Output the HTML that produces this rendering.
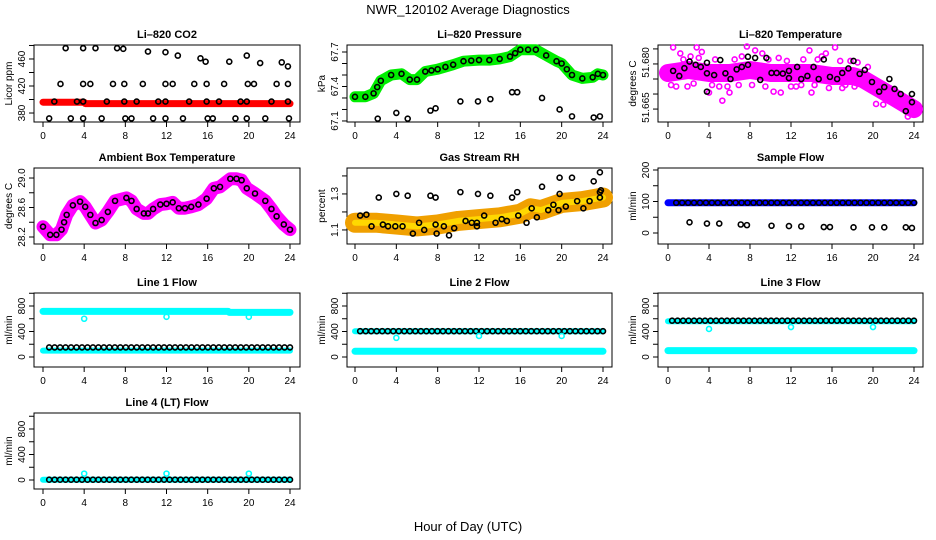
<!DOCTYPE html>
<html><head><meta charset="utf-8"><style>
html,body{margin:0;padding:0;background:#fff}
svg{display:block;font-family:"Liberation Sans",sans-serif}
</style></head><body>
<svg id="s" width="936" height="540" viewBox="0 0 936 540" xmlns="http://www.w3.org/2000/svg">
<rect width="936" height="540" fill="#fff"/>
<text x="468" y="14" text-anchor="middle" font-size="13">NWR_120102  Average Diagnostics</text>
<text x="468" y="531" text-anchor="middle" font-size="13">Hour of Day (UTC)</text>
</svg>
<script>
// ---- data ----
const xTicks=[0,4,8,12,16,20,24];
// CO2
const co2BandH=[0,4,4.1,24];
const co2BandV=[396,396,394,394];
const co2PtsH=[2.2,3.9,5.1,7.2,7.8,10.2,11.9,13.1,15.3,15.8,18.1,19.8,21.1,23.2,23.8,
1.7,3.9,4.6,6.8,7.9,9.7,11.9,12.6,14.7,15.9,17.6,19.9,20.5,22.7,23.8,
1.1,3.3,3.9,6.2,7.9,9.1,11.2,11.9,14.2,15.9,17.1,19.2,19.8,22.2,23.8,
0.6,2.7,3.9,5.7,8.0,8.6,10.7,11.9,13.6,16.0,16.5,18.7,19.8,21.6,23.9];
const co2PtsV=[476,476,476,476,475,471,470,465,461,456,456,465,454,455,449,
423,423,423,423,423,423,423,423,423,423,423,423,423,423,423,
397,397,397,397,397,397,397,397,397,397,397,397,397,397,397,
372,372,372,372,372,372,372,372,372,372,372,372,372,372,372];
// Pressure
const presBandH=[0,1,1.8,2.5,3.5,4.5,5.3,6,6.8,8,9.5,10.5,12,13,14,15,16,17.5,18.5,19.5,20,21,22,23,23.5,24];
const presBandV=[67.31,67.31,67.34,67.45,67.50,67.51,67.46,67.46,67.53,67.55,67.59,67.62,67.63,67.63,67.64,67.66,67.72,67.72,67.67,67.62,67.60,67.50,67.47,67.48,67.51,67.50];
const presLowH=[2.2,4.0,5.1,7.3,7.8,10.2,11.9,13.1,15.2,15.7,18.1,19.8,21.0,23.1,23.7];
const presLowV=[67.12,67.17,67.12,67.19,67.21,67.27,67.27,67.29,67.35,67.35,67.30,67.20,67.14,67.13,67.14];
// Li-820 temperature
const tempBandH=[0,2,4,6,8,10,12,14,16,18,19,20,21,22,23,24];
const tempBandV=[51.677,51.678,51.677,51.677,51.678,51.677,51.677,51.677,51.676,51.676,51.675,51.673,51.671,51.669,51.667,51.665];
const tempMagH=[0.5,1.2,2.8,3.3,5.0,6.0,7.7,8.5,9.2,11.0,12.5,14.0,15.4,16.3,17.3,0.8,4.0,5.3,10.3,13.8,20.3,23.4,23.6,21.0,
1.5,2.2,3.0,4.6,6.5,7.2,9.8,10.8,11.6,13.2,14.6,15.0,16.8,17.8,18.5,19.5,0.3,1.9,2.5,4.3,5.8,6.9,8.2,9.5,12.0,13.0,14.3,15.7,17.0,18.2,19.8,21.5,22.3,22.8];
const tempMagV=[51.6855,51.6835,51.6855,51.684,51.6725,51.6705,51.6858,51.6845,51.6835,51.6705,51.6725,51.6705,51.6835,51.6855,51.673,51.6725,51.6705,51.6678,51.6708,51.6845,51.6667,51.6625,51.664,51.6665,
51.6815,51.6825,51.682,51.6815,51.6815,51.6825,51.6815,51.682,51.681,51.6815,51.6815,51.6825,51.681,51.681,51.6805,51.679,
51.673,51.6725,51.6735,51.673,51.6725,51.673,51.673,51.6725,51.6725,51.673,51.673,51.672,51.672,51.6725,51.6715,51.6695,51.668,51.6665];
const tempPtsH=[0.5,1.1,1.6,2.1,2.7,3.2,3.8,3.8,3.8,4.5,5.1,5.6,6.1,6.7,7.2,7.8,7.8,8.5,9.0,9.6,10.1,10.6,11.2,11.8,11.8,12.6,13.0,13.6,14.2,14.7,15.2,15.8,16.5,17.0,17.6,18.1,18.7,19.2,19.9,20.6,21.1,21.6,22.1,22.7,23.2,23.8,23.8];
const tempPtsV=[51.6777,51.676,51.6786,51.6808,51.6797,51.679,51.6804,51.6769,51.6708,51.6763,51.6813,51.6769,51.675,51.6782,51.679,51.6824,51.6797,51.682,51.6747,51.682,51.677,51.677,51.6768,51.6777,51.6753,51.679,51.675,51.676,51.679,51.675,51.6815,51.6757,51.675,51.677,51.6785,51.681,51.6767,51.678,51.674,51.6708,51.6723,51.675,51.6717,51.670,51.6643,51.670,51.6673];
// Ambient box temperature
const ambH=[0,0.7,1.3,1.8,2.3,2.9,3.6,4.1,4.6,5.1,5.7,6.3,7.0,8.1,8.6,9.1,9.8,10.2,10.7,11.4,12.0,12.6,13.2,13.8,14.4,15.1,15.9,16.6,17.2,18.2,18.8,19.3,19.8,20.6,21.6,22.2,22.7,23.4,24];
const ambV=[28.34,28.23,28.23,28.30,28.50,28.63,28.68,28.61,28.50,28.39,28.43,28.54,28.69,28.73,28.69,28.58,28.52,28.52,28.58,28.64,28.65,28.67,28.59,28.59,28.61,28.64,28.72,28.86,28.88,28.99,28.99,28.97,28.86,28.79,28.69,28.58,28.48,28.37,28.30];
// Gas stream RH
const rhBandH=[0,2,4,6,8,10,12,14,16,17,18,20,22,24];
const rhBandV=[1.14,1.14,1.13,1.12,1.13,1.15,1.16,1.17,1.19,1.22,1.21,1.25,1.26,1.28];
const rhPtsH=[2.3,4.0,5.1,7.3,7.8,10.2,11.9,13.1,15.2,15.7,18.1,19.8,21.0,23.1,23.7,19.8,23.8,23.7,
0.5,1.1,1.6,2.7,3.2,3.9,4.6,5.6,6.2,6.7,7.8,7.9,8.6,9.1,9.6,10.7,11.3,11.8,11.8,12.5,13.6,14.2,14.7,15.8,16.6,17.1,17.6,18.7,19.2,19.7,20.4,21.5,22.1,22.7,23.7];
const rhPtsV=[1.28,1.30,1.29,1.29,1.28,1.31,1.30,1.29,1.28,1.31,1.34,1.39,1.39,1.37,1.42,1.30,1.32,1.31,
1.18,1.185,1.12,1.13,1.12,1.12,1.12,1.08,1.14,1.10,1.13,1.08,1.12,1.07,1.11,1.15,1.14,1.14,1.12,1.18,1.14,1.16,1.15,1.18,1.14,1.22,1.17,1.21,1.24,1.21,1.23,1.26,1.22,1.26,1.28];
// Sample flow
const sfBandH=[0,24];
const sfBandV=[96,96];
const sfLowH=[2.1,3.8,5.0,7.1,7.7,10.1,11.8,13.0,15.2,15.8,18.1,19.9,21.1,23.2,23.8];
const sfLowV=[34,30,30,27,25,23,22,21,19,19,18,18,18,18,16];
// Line flows
const l1CyanHiH=[0,18,18.1,24]; const l1CyanHiV=[715,715,700,700];
const l1CyanLoH=[0,24]; const l1CyanLoV=[100,100];
const l1BlackH=[0.6,24]; const l1BlackV=[150,150];
const l1DipH=[4,12,20]; const l1DipV=[600,630,630];
const l2CyanHiH=[0,24]; const l2CyanHiV=[405,405];
const l2CyanLoH=[0,24]; const l2CyanLoV=[90,90];
const l2BlackH=[0.5,24]; const l2BlackV=[405,405];
const l2DipH=[4,12,20]; const l2DipV=[300,330,330];
const l3CyanHiH=[0,24]; const l3CyanHiV=[560,560];
const l3CyanLoH=[0,24]; const l3CyanLoV=[100,100];
const l3BlackH=[0.4,24]; const l3BlackV=[570,570];
const l3DipH=[4,12,20]; const l3DipV=[440,470,470];
const l4CyanH=[0,24]; const l4CyanV=[5,5];
const l4BlackH=[0.6,24]; const l4BlackV=[5,5];
const l4DipH=[4,12,20]; const l4DipV=[100,100,100];

// ---- drawing ----
const NS="http://www.w3.org/2000/svg";
const svg=document.getElementById('s');
function el(tag,attrs,parent){const e=document.createElementNS(NS,tag);for(const k in attrs)e.setAttribute(k,attrs[k]);(parent||svg).appendChild(e);return e;}
const cols=[{L:34,R:300,x0:43,x24:290},{L:347,R:612,x0:355,x24:603},{L:658,R:923,x0:668,x24:914}];
const rows=[{T:45,B:122},{T:168,B:244},{T:293,B:367},{T:413,B:489}];

function panel(name,title,c,r,ylim,ticks,labVals,labTexts,ylab){
  const col=cols[c],row=rows[r];
  const g=el('g',{});
  
  
  const sx=h=>col.x0+(col.x24-col.x0)*h/24;
  const sy=v=>row.T+(ylim[1]-v)/(ylim[1]-ylim[0])*(row.B-row.T);
  const t=el('text',{x:(col.L+col.R)/2,y:row.T-7,'text-anchor':'middle','font-size':11,'font-weight':'bold'},g);
  t.textContent=title;
  
  
  const box=el('rect',{x:col.L,y:row.T,width:col.R-col.L,height:row.B-row.T,fill:'none',stroke:'#000','stroke-width':1},g);
  
  
  const xa=el('g',{},g);
  
  
  el('line',{x1:sx(0),x2:sx(24),y1:row.B,y2:row.B,stroke:'#000'},xa);
  xTicks.forEach(h=>{
    el('line',{x1:sx(h),x2:sx(h),y1:row.B,y2:row.B+5,stroke:'#000'},xa);
    const lt=el('text',{x:sx(h),y:row.B+17,'text-anchor':'middle','font-size':10},xa);
    lt.textContent=h;
  });
  const ya=el('g',{},g);
  
  
  el('line',{x1:col.L,x2:col.L,y1:sy(ticks[0]),y2:sy(ticks[ticks.length-1]),stroke:'#000'},ya);
  ticks.forEach(v=>el('line',{x1:col.L-5,x2:col.L,y1:sy(v),y2:sy(v),stroke:'#000'},ya));
  labVals.forEach((v,i)=>{
    const yy=sy(v),xx=col.L-9;
    const lt=el('text',{x:xx,y:yy,'text-anchor':'middle','font-size':10,transform:`rotate(-90 ${xx} ${yy})`},ya);
    lt.textContent=labTexts[i];
  });
  const yl=el('text',{x:col.L-22,y:(row.T+row.B)/2,'text-anchor':'middle','font-size':10,transform:`rotate(-90 ${col.L-22} ${(row.T+row.B)/2})`},g);
  yl.textContent=ylab;
  
  
  return {g,sx,sy};
}
function band(p,H,V,color,w,nm){
  const pts=H.map((h,i)=>p.sx(h).toFixed(1)+','+p.sy(V[i]).toFixed(1)).join(' ');
  const e=el('polyline',{points:pts,fill:'none',stroke:color,'stroke-width':w,'stroke-linecap':'round','stroke-linejoin':'round'},p.g);
  
  
}
function pts(p,H,V,color,nm){
  const g=el('g',{},p.g);
  
  
  H.forEach((h,i)=>el('circle',{cx:p.sx(h),cy:p.sy(V[i]),r:2.5,fill:'none',stroke:color,'stroke-width':1.6},g));
}
function densePts(p,H,V,color,step,nm){
  const g=el('g',{},p.g);
  
  
  for(let i=0;i<H.length-1;i++){
    const x1=p.sx(H[i]),y1=p.sy(V[i]),x2=p.sx(H[i+1]),y2=p.sy(V[i+1]);
    const d=Math.hypot(x2-x1,y2-y1),n=Math.max(1,Math.round(d/step));
    for(let k=0;k<n;k++){const f=k/n;el('circle',{cx:x1+(x2-x1)*f,cy:y1+(y2-y1)*f,r:2.5,fill:'none',stroke:color,'stroke-width':1.6},g);}
  }
  const L=H.length-1;
  el('circle',{cx:p.sx(H[L]),cy:p.sy(V[L]),r:2.5,fill:'none',stroke:color,'stroke-width':1.6},g);
}
const flowTicks=[0,200,400,600,800,1000];

let p=panel('co2','Li\u2013820 CO2',0,0,[366.7,480.7],[380,400,420,440,460,480],[380,420,460],['380','420','460'],'Licor ppm');
band(p,co2BandH,co2BandV,'#ff0000',7,'co2-band');
pts(p,co2PtsH,co2PtsV,'#000','co2-points');

p=panel('pressure','Li\u2013820 Pressure',1,0,[67.091,67.761],[67.1,67.2,67.3,67.4,67.5,67.6,67.7],[67.1,67.4,67.7],['67.1','67.4','67.7'],'kPa');
band(p,presBandH,presBandV,'#00ee00',11,'pressure-band');
densePts(p,presBandH,presBandV,'#000',8,'pressure-points');
pts(p,presLowH,presLowV,'#000','pressure-low-points');

p=panel('li820-temp','Li\u2013820 Temperature',2,0,[51.6607,51.6863],[51.665,51.670,51.675,51.680,51.685],[51.6805,51.6655],['51.680','51.665'],'degrees C');
band(p,tempBandH,tempBandV,'#ff00ff',18,'li820-temp-band');
pts(p,tempMagH,tempMagV,'#ff00ff','li820-temp-magenta-points');
pts(p,tempPtsH,tempPtsV,'#000','li820-temp-points');

p=panel('ambient','Ambient Box Temperature',0,1,[28.105,29.136],[28.2,28.4,28.6,28.8,29.0],[28.2,28.6,29.0],['28.2','28.6','29.0'],'degrees C');
band(p,ambH,ambV,'#ff00ff',13,'ambient-band');
densePts(p,ambH,ambV,'#000',10,'ambient-points');

p=panel('rh','Gas Stream RH',1,1,[1.022,1.444],[1.1,1.2,1.3,1.4],[1.1,1.3],['1.1','1.3'],'percent');
band(p,rhBandH,rhBandV,'#f0a000',20,'rh-band');
band(p,rhBandH,rhBandV,'#ffd800',6,'rh-band-core');
pts(p,rhPtsH,rhPtsV,'#000','rh-points');

p=panel('sample-flow','Sample Flow',2,1,[-34.9,206.3],[0,50,100,150,200],[0,100,200],['0','100','200'],'ml/min');
band(p,sfBandH,sfBandV,'#0000ff',7,'sample-flow-band');
densePts(p,[0.8,24],[sfBandV[0],sfBandV[1]],'#000',6,'sample-flow-points');
pts(p,sfLowH,sfLowV,'#000','sample-flow-low-points');

p=panel('line1','Line 1 Flow',0,2,[-157,1004],flowTicks,[0,400,800],['0','400','800'],'ml/min');
band(p,l1CyanHiH,l1CyanHiV,'#00ffff',7,'line1-cyan-high');
band(p,l1CyanLoH,l1CyanLoV,'#00ffff',6,'line1-cyan-low');
densePts(p,l1BlackH,l1BlackV,'#000',5.5,'line1-black-points');
pts(p,l1DipH,l1DipV,'#00ffff','line1-dips');

p=panel('line2','Line 2 Flow',1,2,[-157,1004],flowTicks,[0,400,800],['0','400','800'],'ml/min');
band(p,l2CyanHiH,l2CyanHiV,'#00ffff',6,'line2-cyan-high');
band(p,l2CyanLoH,l2CyanLoV,'#00ffff',7,'line2-cyan-low');
densePts(p,l2BlackH,l2BlackV,'#000',5.5,'line2-black-points');
pts(p,l2DipH,l2DipV,'#00ffff','line2-dips');

p=panel('line3','Line 3 Flow',2,2,[-157,1004],flowTicks,[0,400,800],['0','400','800'],'ml/min');
band(p,l3CyanHiH,l3CyanHiV,'#00ffff',6,'line3-cyan-high');
band(p,l3CyanLoH,l3CyanLoV,'#00ffff',7,'line3-cyan-low');
densePts(p,l3BlackH,l3BlackV,'#000',5.5,'line3-black-points');
pts(p,l3DipH,l3DipV,'#00ffff','line3-dips');

p=panel('line4','Line 4 (LT) Flow',0,3,[-141,1051],flowTicks,[0,400,800],['0','400','800'],'ml/min');
band(p,l4CyanH,l4CyanV,'#00ffff',6,'line4-cyan');
densePts(p,l4BlackH,l4BlackV,'#000',5.5,'line4-black-points');
pts(p,l4DipH,l4DipV,'#00ffff','line4-dips');
</script>
</body></html>
